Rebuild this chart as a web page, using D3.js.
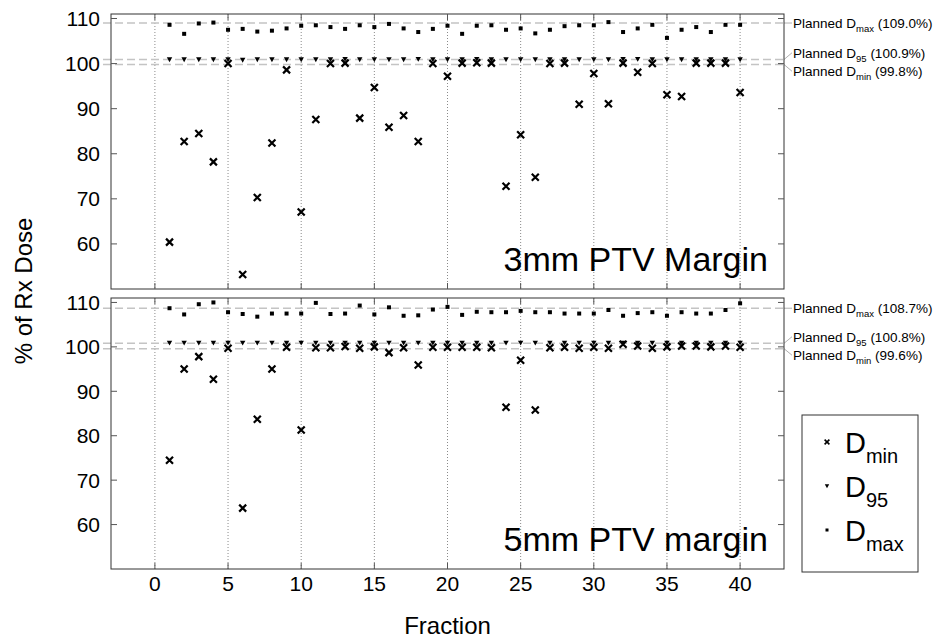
<!DOCTYPE html>
<html lang="en">
<head>
  <meta charset="utf-8">
  <title>PTV margin dose per fraction</title>
  <script src="https://cdn.jsdelivr.net/npm/d3@7"></script>
  <style>
    body { margin: 0; background: #fff; }
    text { font-family: "Liberation Sans", Arial, Helvetica, sans-serif; fill: #000; }
  </style>
</head>
<body>
<script>
// fraction numbers (x categories)
const fractions = [1,2,3,4,5,6,7,8,9,10,11,12,13,14,15,16,17,18,19,20,
                   21,22,23,24,25,26,27,28,29,30,31,32,33,34,35,36,37,38,39,40];

// 3mm PTV margin
const dmin3 = [60.4,82.7,84.5,78.2,100.0,53.2,70.3,82.4,98.6,67.1,
               87.6,100.0,100.1,87.9,94.7,85.9,88.5,82.7,100.0,97.2,
               100.1,100.2,100.1,72.8,84.2,74.8,100.0,100.1,91.0,97.8,
               91.1,100.1,98.1,100.0,93.1,92.7,100.1,100.1,100.1,93.6];
const d95_3 = [100.9,100.9,100.9,100.9,100.9,100.8,100.9,100.9,100.9,100.9,
               100.9,100.9,101.0,100.9,100.9,100.9,100.9,101.0,100.9,100.9,
               100.9,101.0,100.9,100.9,100.9,100.9,100.9,100.9,100.9,100.9,
               100.9,101.0,101.0,100.9,100.9,100.9,100.9,100.9,100.9,100.9];
const dmax3 = [108.6,106.6,108.9,109.1,107.5,107.7,107.1,107.3,107.8,108.4,
               108.5,108.1,107.7,108.5,108.1,108.8,107.8,107.0,107.7,108.4,
               106.6,108.4,108.5,107.5,107.8,106.7,107.5,108.3,108.5,108.5,
               109.2,107.0,107.8,108.6,105.7,107.5,108.1,107.0,108.6,108.6];

// 5mm PTV margin
const dmin5 = [74.5,95.0,97.8,92.7,99.7,63.7,83.7,95.0,99.9,81.3,
               99.8,99.8,100.1,99.7,100.0,98.7,99.8,95.9,99.9,99.9,
               99.9,99.9,99.8,86.4,97.0,85.8,99.8,99.9,99.7,99.9,
               99.7,100.6,100.2,99.7,100.0,100.2,100.2,100.0,100.2,99.9];
const d95_5 = [100.9,100.9,100.9,100.9,100.9,100.9,100.9,100.9,100.9,100.9,
               100.9,100.9,100.9,100.9,100.9,100.9,100.9,100.9,100.9,100.9,
               100.9,100.9,100.9,100.9,100.9,100.9,100.9,100.9,100.9,100.9,
               100.9,100.9,100.9,100.9,100.9,100.9,100.9,100.9,100.9,100.9];
const dmax5 = [108.7,107.3,109.6,110.0,107.8,107.4,106.8,107.5,107.5,107.5,
               109.9,107.4,107.5,109.3,107.3,108.9,107.0,107.1,108.4,109.0,
               107.2,107.9,107.8,107.8,108.1,107.8,107.8,107.5,107.5,107.5,
               108.3,107.0,107.6,107.8,107.0,107.8,107.5,107.5,108.3,109.8];

// planned values: Dmax, D95, Dmin
const plannedSubs = ["max", "95", "min"];
const planned3 = [109.0, 100.9, 99.8];
const planned5 = [108.7, 100.8, 99.6];

const xTicks = [0,5,10,15,20,25,30,35,40];
const yTicks = [60,70,80,90,100,110];
const legendSubs = ["min", "95", "max"];

const W = 938, H = 644;
const left = 111, right = 784;

const svg = d3.select("body").append("svg")
  .attr("width", W).attr("height", H);

const x = d3.scaleLinear().domain([-3, 43]).range([left, right]);

// marker shapes
function xMark(g, s, w) {
  g.append("path")
    .attr("d", `M${-s},${-s}L${s},${s}M${-s},${s}L${s},${-s}`)
    .attr("stroke", "#000").attr("stroke-width", w).attr("fill", "none");
}
function triMark(g, s) {
  g.append("path")
    .attr("d", `M${-s},${-s * 0.8}L${s},${-s * 0.8}L0,${s}Z`)
    .attr("fill", "#000");
}
function sqMark(g, s) {
  g.append("rect")
    .attr("x", -s).attr("y", -s).attr("width", 2 * s).attr("height", 2 * s)
    .attr("fill", "#000");
}

function drawPanel(top, bottom, dmin, d95, dmax, planned, title, showX) {
  const y = d3.scaleLinear().domain([50, 111]).range([bottom, top]);
  const g = svg.append("g");

  // vertical dotted grid
  g.selectAll(".grid").data(xTicks).enter().append("line")
    .attr("x1", d => x(d)).attr("x2", d => x(d))
    .attr("y1", top).attr("y2", bottom)
    .attr("stroke", "#8a8a8a").attr("stroke-width", 1)
    .attr("stroke-dasharray", "1,2");

  // planned dashed lines
  g.selectAll(".planned").data(planned).enter().append("line")
    .attr("x1", left - 8).attr("x2", right)
    .attr("y1", d => y(d)).attr("y2", d => y(d))
    .attr("stroke", "#c4c4c4").attr("stroke-width", 1.5)
    .attr("stroke-dasharray", "8,4");

  // label positions: spread labels that would collide
  const ly = planned.map(v => y(v));
  const gapMin = 18.5;
  if (ly[2] - ly[1] < gapMin) {
    const mid = (ly[1] + ly[2]) / 2;
    ly[1] = mid - gapMin / 2;
    ly[2] = mid + gapMin / 2;
  }
  planned.forEach((v, i) => {
    g.append("line")
      .attr("x1", right).attr("x2", right + 8)
      .attr("y1", y(v)).attr("y2", ly[i])
      .attr("stroke", "#b0b0b0").attr("stroke-width", 1);
    const t = g.append("text")
      .attr("x", right + 9).attr("y", ly[i] + 5)
      .attr("font-size", 13.5);
    t.append("tspan").text("Planned D");
    t.append("tspan").attr("font-size", 9.5).attr("dy", 4).text(plannedSubs[i]);
    t.append("tspan").attr("dy", -4).text(" (" + v.toFixed(1) + "%)");
  });

  // frame
  g.append("rect")
    .attr("x", left).attr("y", top)
    .attr("width", right - left).attr("height", bottom - top)
    .attr("fill", "none").attr("stroke", "#333").attr("stroke-width", 1);

  // ticks inside the frame
  const tl = 6;
  yTicks.forEach(t => {
    g.append("line").attr("x1", left).attr("x2", left + tl)
      .attr("y1", y(t)).attr("y2", y(t)).attr("stroke", "#555");
    g.append("line").attr("x1", right).attr("x2", right - tl)
      .attr("y1", y(t)).attr("y2", y(t)).attr("stroke", "#555");
  });
  xTicks.forEach(t => {
    g.append("line").attr("x1", x(t)).attr("x2", x(t))
      .attr("y1", bottom).attr("y2", bottom - tl).attr("stroke", "#555");
    g.append("line").attr("x1", x(t)).attr("x2", x(t))
      .attr("y1", top).attr("y2", top + tl).attr("stroke", "#555");
  });

  // y tick labels
  g.selectAll(".ylab").data(yTicks).enter().append("text")
    .attr("x", left - 11).attr("y", d => y(d) + 7.5)
    .attr("text-anchor", "end").attr("font-size", 21)
    .text(d => d);

  if (showX) {
    g.selectAll(".xlab").data(xTicks).enter().append("text")
      .attr("x", d => x(d)).attr("y", bottom + 22)
      .attr("text-anchor", "middle").attr("font-size", 21)
      .text(d => d);
  }

  // markers
  fractions.forEach((f, i) => {
    xMark(g.append("g").attr("transform", `translate(${x(f)},${y(dmin[i])})`), 3.5, 2.2);
    triMark(g.append("g").attr("transform", `translate(${x(f)},${y(d95[i])})`), 2.7);
    sqMark(g.append("g").attr("transform", `translate(${x(f)},${y(dmax[i])})`), 2);
  });

  g.append("text")
    .attr("x", right - 16).attr("y", bottom - 18.5)
    .attr("text-anchor", "end").attr("font-size", 34)
    .text(title);
}

drawPanel(14, 289, dmin3, d95_3, dmax3, planned3, "3mm PTV Margin", false);
drawPanel(298, 569, dmin5, d95_5, dmax5, planned5, "5mm PTV margin", true);

// axis titles
svg.append("text")
  .attr("transform", "translate(32,291) rotate(-90)")
  .attr("text-anchor", "middle").attr("font-size", 24)
  .text("% of Rx Dose");
svg.append("text")
  .attr("x", (left + right) / 2).attr("y", 634)
  .attr("text-anchor", "middle").attr("font-size", 24)
  .text("Fraction");

// legend
const lg = svg.append("g");
lg.append("rect")
  .attr("x", 802).attr("y", 415).attr("width", 116).attr("height", 157)
  .attr("fill", "#fff").attr("stroke", "#333").attr("stroke-width", 1);
const legendMarks = [s => xMark(s, 2.4, 1.6), s => triMark(s, 2.2), s => sqMark(s, 1.5)];
legendSubs.forEach((s, i) => {
  const by = 453 + i * 44;
  legendMarks[i](lg.append("g").attr("transform", `translate(827,${by - 11})`));
  const t = lg.append("text").attr("x", 845).attr("y", by).attr("font-size", 29);
  t.append("tspan").text("D");
  t.append("tspan").attr("font-size", 20).attr("dy", 10).text(s);
});
</script>
</body>
</html>
